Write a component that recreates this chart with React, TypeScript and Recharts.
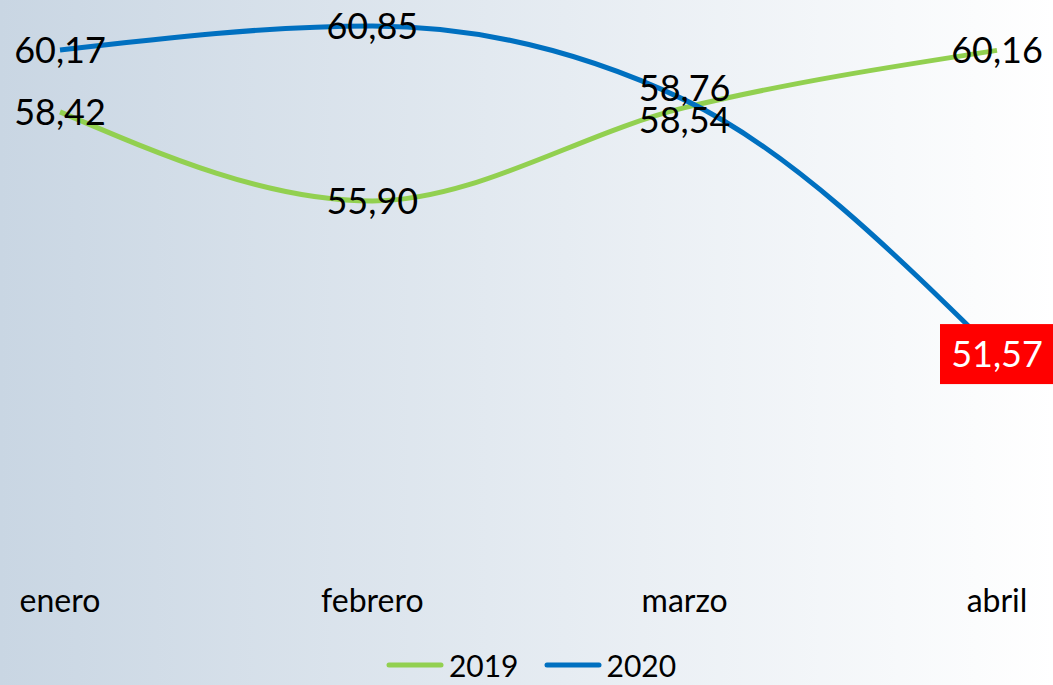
import React from 'react';
import { LineChart, Line, XAxis, YAxis, Legend, LabelList } from 'recharts';

const months = ['enero', 'febrero', 'marzo', 'abril'];
const values2019 = [58.42, 55.9, 58.54, 60.16];
const values2020 = [60.17, 60.85, 58.76, 51.57];

const data = months.map((m, i) => ({ month: m, y2019: values2019[i], y2020: values2020[i] }));

const FONT = 'Lato, "Open Sans", sans-serif';
const GREEN = '#92d050';
const BLUE = '#0070c0';

const fmt = (v: number) => v.toFixed(2).replace('.', ',');

const makeLabel = (series: '2019' | '2020') => (props: any) => {
  const { x, y, value, index } = props;
  let dy = 0;
  if (index === 2) dy = series === '2019' ? 12 : -12;
  const cy = y + dy;
  const text = fmt(Number(value));
  const highlight = series === '2020' && index === 3;
  return (
    <g>
      {highlight && <rect x={x - 57} y={cy - 30} width={113} height={60} fill="#ff0000" />}
      <text
        x={x}
        y={cy + 13}
        textAnchor="middle"
        fontFamily={FONT}
        fontSize={36}
        fill={highlight ? '#ffffff' : '#000000'}
      >
        {text}
      </text>
    </g>
  );
};

const renderLegend = () => (
  <div
    style={{
      display: 'flex',
      justifyContent: 'center',
      alignItems: 'center',
      height: 40,
      paddingLeft: 9,
      fontFamily: FONT,
      fontSize: 30,
      color: '#000',
    }}
  >
    {[
      { c: GREEN, t: '2019' },
      { c: BLUE, t: '2020' },
    ].map((it, i) => (
      <div key={it.t} style={{ display: 'flex', alignItems: 'center', marginLeft: i ? 25 : 0 }}>
        <svg width={58} height={8} style={{ marginRight: 5 }}>
          <line x1={3} y1={4} x2={55} y2={4} stroke={it.c} strokeWidth={5} strokeLinecap="round" />
        </svg>
        <span>{it.t}</span>
      </div>
    ))}
  </div>
);

export default function App() {
  return (
    <div
      style={{
        position: 'absolute',
        left: 0,
        top: 0,
        width: 1053,
        height: 685,
        background: 'linear-gradient(to right, #c9d6e3, #ffffff)',
        overflow: 'hidden',
      }}
    >
      <LineChart width={1053} height={685} data={data} margin={{ top: 3, right: 0, bottom: 0, left: 0 }}>
        <XAxis
          dataKey="month"
          height={94}
          axisLine={false}
          tickLine={false}
          tickSize={0}
          tickMargin={38}
          padding={{ left: 60, right: 56 }}
          tick={{ fill: '#000', fontSize: 32, fontFamily: FONT }}
          interval={0}
        />
        <YAxis hide domain={[46, 61.5]} type="number" />
        <Legend verticalAlign="bottom" height={40} content={renderLegend} />
        <Line
          type="monotone"
          dataKey="y2019"
          name="2019"
          stroke={GREEN}
          strokeWidth={5}
          dot={false}
          isAnimationActive={false}
        >
          <LabelList dataKey="y2019" content={makeLabel('2019')} />
        </Line>
        <Line
          type="monotone"
          dataKey="y2020"
          name="2020"
          stroke={BLUE}
          strokeWidth={5}
          dot={false}
          isAnimationActive={false}
        >
          <LabelList dataKey="y2020" content={makeLabel('2020')} />
        </Line>
      </LineChart>
    </div>
  );
}
